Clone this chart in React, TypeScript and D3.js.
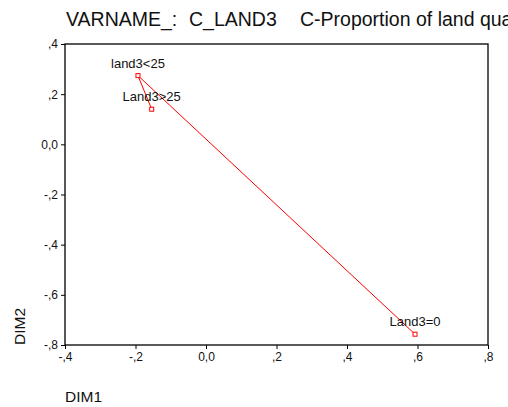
import { useEffect, useRef } from "react";
import * as d3 from "d3";

const labels = ["Land3=0", "land3<25", "Land3>25"];
const dim1 = [0.593, -0.193, -0.154];
const dim2 = [-0.757, 0.274, 0.14];
const xTicks = [-0.4, -0.2, 0, 0.2, 0.4, 0.6, 0.8];
const yTicks = [-0.8, -0.6, -0.4, -0.2, 0, 0.2, 0.4];

// SPSS style: comma decimal, no leading zero
function fmt(v: number) {
  if (Math.abs(v) < 1e-9) return "0,0";
  const s = Math.abs(v).toFixed(1).replace("0.", ",");
  return (v < 0 ? "-" : "") + s;
}

export default function App() {
  const svgRef = useRef<SVGSVGElement>(null);

  useEffect(() => {
    if (!svgRef.current) return;
    const svg = d3.select(svgRef.current);
    svg.selectAll("*").remove();

    const width = 508;
    const height = 407;
    const margin = { top: 44, right: 20, bottom: 62, left: 65 };
    const innerW = width - margin.left - margin.right;
    const innerH = height - margin.top - margin.bottom;
    const font = "Liberation Sans, Arial, sans-serif";

    svg.append("rect").attr("width", width).attr("height", height).attr("fill", "#fff");

    const title = svg.append("text").attr("y", 26).attr("font-family", font)
      .attr("font-size", "19.5px").attr("fill", "#111");
    title.append("tspan").attr("x", 66).text("VARNAME_:");
    title.append("tspan").attr("x", 189).text("C_LAND3");
    title.append("tspan").attr("x", 300).text("C-Proportion of land quality");

    const g = svg.append("g").attr("transform", `translate(${margin.left},${margin.top})`);

    const x = d3.scaleLinear().domain([-0.4, 0.8]).range([0, innerW]);
    const y = d3.scaleLinear().domain([-0.8, 0.4]).range([innerH, 0]);

    g.append("rect").attr("width", innerW).attr("height", innerH)
      .attr("fill", "none").attr("stroke", "#000").attr("stroke-width", 1.3);

    const xa = g.append("g").attr("transform", `translate(0,${innerH})`)
      .call(d3.axisBottom(x).tickValues(xTicks).tickFormat((d) => fmt(+d)).tickSizeOuter(0).tickSize(4).tickPadding(3));
    const ya = g.append("g")
      .call(d3.axisLeft(y).tickValues(yTicks).tickFormat((d) => fmt(+d)).tickSizeOuter(0).tickSize(4).tickPadding(3));
    [xa, ya].forEach((a) => {
      a.select(".domain").remove();
      a.selectAll("line").attr("stroke", "#000");
      a.selectAll("text").attr("fill", "#111").attr("font-size", "12px").attr("font-family", font);
    });

    svg.append("text").attr("x", 65).attr("y", 402).attr("font-family", font)
      .attr("font-size", "15.5px").attr("fill", "#111").text("DIM1");
    svg.append("text").attr("transform", "translate(25,345) rotate(-90)").attr("font-family", font)
      .attr("font-size", "15.5px").attr("fill", "#111").text("DIM2");

    const pts = labels.map((l, i) => ({ label: l, x: dim1[i], y: dim2[i] }));

    g.append("path").datum(pts)
      .attr("d", d3.line<any>().x((d) => x(d.x)).y((d) => y(d.y)))
      .attr("fill", "none").attr("stroke", "#ff0000").attr("stroke-width", 1);

    g.selectAll("rect.pt").data(pts).enter().append("rect").attr("class", "pt")
      .attr("x", (d) => x(d.x) - 2).attr("y", (d) => y(d.y) - 2)
      .attr("width", 4).attr("height", 4)
      .attr("fill", "#fff").attr("stroke", "#ff0000").attr("stroke-width", 1);

    g.selectAll("text.lbl").data(pts).enter().append("text").attr("class", "lbl")
      .attr("x", (d) => x(d.x)).attr("y", (d) => y(d.y) - 8)
      .attr("text-anchor", "middle").attr("font-family", font).attr("font-size", "13px")
      .attr("fill", "#111").text((d) => d.label);
  }, []);

  return (
    <svg ref={svgRef} width={508} height={407}
      style={{ position: "absolute", left: 0, top: 0, overflow: "hidden" }} />
  );
}
